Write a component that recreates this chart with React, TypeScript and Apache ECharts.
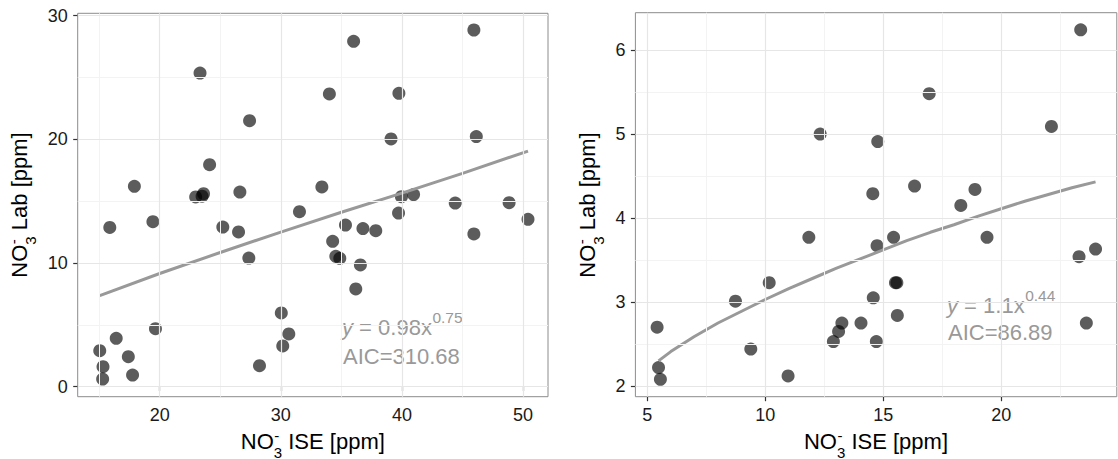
import React, { useEffect, useRef } from "react";
import * as echarts from "echarts";

// ---------- Left panel data ----------
const leftX = [15.05, 15.32, 15.29, 15.88, 16.41, 17.41, 17.76, 17.91, 19.44, 19.65, 23.33, 22.97, 23.5, 23.62, 24.12, 25.21, 26.51, 26.62, 27.42, 27.36, 28.24, 30.04, 30.66, 30.16, 31.54, 33.39, 34.01, 34.28, 34.54, 34.87, 35.34, 36.01, 36.19, 36.57, 36.78, 37.84, 39.1, 39.75, 39.72, 39.96, 40.96, 44.4, 45.94, 46.14, 45.94, 48.85, 50.41];
const leftY = [2.91, 1.62, 0.62, 12.88, 3.91, 2.43, 0.94, 16.2, 13.34, 4.69, 25.36, 15.34, 15.4, 15.6, 17.95, 12.91, 12.51, 15.74, 21.51, 10.4, 1.7, 5.96, 4.26, 3.29, 14.15, 16.15, 23.67, 11.75, 10.54, 10.38, 13.07, 27.92, 7.9, 9.84, 12.78, 12.61, 20.03, 23.72, 14.04, 15.36, 15.53, 14.85, 28.84, 20.22, 12.35, 14.88, 13.53];
const leftFitX = [15.05, 20, 25, 30, 35, 40, 45, 50.41];
const leftFitY = [7.36, 9.15, 10.85, 12.5, 14.1, 15.65, 17.25, 19.05];
const leftXTicks = [20, 30, 40, 50];
const leftXMinor = [15, 25, 35, 45];
const leftYTicks = [0, 10, 20, 30];
const leftYMinor = [5, 15, 25];
const leftXRange = [13.23, 52.06];
const leftYRange = [-0.81, 30.19];

// ---------- Right panel data ----------
const rightX = [5.42, 5.48, 5.56, 8.74, 9.39, 10.17, 10.97, 11.85, 12.33, 12.89, 13.11, 13.25, 14.06, 14.56, 14.58, 14.77, 14.74, 14.71, 15.44, 15.52, 15.58, 15.6, 16.33, 16.95, 18.29, 18.89, 19.4, 22.13, 23.37, 23.3, 23.61, 24.0];
const rightY = [2.7, 2.22, 2.08, 3.01, 2.44, 3.23, 2.12, 3.77, 5.0, 2.53, 2.65, 2.75, 2.75, 4.29, 3.05, 4.91, 3.67, 2.53, 3.77, 3.23, 3.23, 2.84, 4.38, 5.48, 4.15, 4.34, 3.77, 5.09, 6.24, 3.54, 2.75, 3.63];
const rightFitX = [5.48, 6, 6.5, 7, 8, 9, 10, 11, 12, 13, 14, 15, 16, 17, 18, 19, 20, 21, 22, 23, 24.0];
const rightFitY = [2.3, 2.41, 2.5, 2.59, 2.75, 2.89, 3.03, 3.16, 3.28, 3.4, 3.51, 3.62, 3.73, 3.83, 3.92, 4.02, 4.11, 4.2, 4.28, 4.36, 4.43];
const rightXTicks = [5, 10, 15, 20];
const rightXMinor = [7.5, 12.5, 17.5, 22.5];
const rightYTicks = [2, 3, 4, 5, 6];
const rightYMinor = [2.5, 3.5, 4.5, 5.5];
const rightXRange = [4.5, 24.9];
const rightYRange = [1.873, 6.444];

// ---------- Texts ----------
const leftEqCoef = " = 0.98x";
const leftEqExp = "0.75";
const leftAIC = "AIC=310.68";
const rightEqCoef = " = 1.1x";
const rightEqExp = "0.44";
const rightAIC = "AIC=86.89";
const xTitleRest = " ISE [ppm]";
const yTitleRest = " Lab [ppm]";

const FONT = '"Liberation Sans", Arial, Helvetica, sans-serif';
const TITLE_SIZE = 22;
const SUB_SIZE = 15;
const ANN_SIZE = 22;
const SUP_SIZE = 15.5;
const GREY = "#999999";

function textWidth(text: string, size: number, style = "normal") {
  const ctx = document.createElement("canvas").getContext("2d")!;
  ctx.font = `${style} ${size}px ${FONT}`;
  return ctx.measureText(text).width;
}

function txt(x: number, y: number, text: string, size: number, fill: string, extra: any = {}) {
  return {
    type: "text",
    x,
    y,
    silent: true,
    style: {
      text,
      fontSize: size,
      fontFamily: FONT,
      fill,
      align: "left",
      verticalAlign: "middle",
      textAlign: "left",
      textVerticalAlign: "middle",
      ...extra,
    },
  };
}

function axisTitle(cx: number, cy: number, rotated: boolean, rest: string) {
  const w1 = textWidth("NO", TITLE_SIZE);
  const w2 = Math.max(textWidth("3", SUB_SIZE), textWidth("-", SUB_SIZE));
  const w3 = textWidth(rest, TITLE_SIZE);
  const x0 = -(w1 + w2 + w3) / 2;
  return {
    type: "group",
    x: cx,
    y: cy,
    rotation: rotated ? Math.PI / 2 : 0,
    children: [
      txt(x0, 0, "NO", TITLE_SIZE, "#000"),
      txt(x0 + w1, 11, "3", SUB_SIZE, "#000"),
      txt(x0 + w1 + 0.5, -6, "-", SUB_SIZE, "#000"),
      txt(x0 + w1 + w2, 0, rest, TITLE_SIZE, "#000"),
    ],
  };
}

function annotation(x: number, y1: number, y2: number, coef: string, exp: string, aic: string) {
  const wy = textWidth("y", ANN_SIZE, "italic");
  const wc = textWidth(coef, ANN_SIZE);
  return {
    type: "group",
    x: 0,
    y: 0,
    children: [
      txt(x, y1, "y", ANN_SIZE, GREY, { fontStyle: "italic" }),
      txt(x + wy, y1, coef, ANN_SIZE, GREY),
      txt(x + wy + wc + 0.5, y1 - 10, exp, SUP_SIZE, GREY),
      txt(x + 1, y2, aic, ANN_SIZE, GREY),
    ],
  };
}

function gridLines(idx: number, xMajor: number[], xMinor: number[], yMajor: number[], yMinor: number[]) {
  const minor = { color: "#f3f3f3", width: 1, type: "solid" };
  const major = { color: "#e6e6e6", width: 1.2, type: "solid" };
  const data: any[] = [];
  xMinor.forEach((v) => data.push({ xAxis: v, lineStyle: minor }));
  yMinor.forEach((v) => data.push({ yAxis: v, lineStyle: minor }));
  xMajor.forEach((v) => data.push({ xAxis: v, lineStyle: major }));
  yMajor.forEach((v) => data.push({ yAxis: v, lineStyle: major }));
  return {
    type: "line",
    xAxisIndex: idx,
    yAxisIndex: idx,
    data: [],
    silent: true,
    z: 0,
    markLine: {
      silent: true,
      animation: false,
      symbol: ["none", "none"],
      label: { show: false },
      lineStyle: { type: "solid" },
      emphasis: { disabled: true },
      data,
    },
  };
}

function valueAxis(idx: number, range: number[], ticks: number[], isY: boolean) {
  return {
    type: "value",
    gridIndex: idx,
    min: range[0],
    max: range[1],
    axisLine: { show: false },
    splitLine: { show: false },
    minorSplitLine: { show: false },
    axisTick: {
      show: true,
      length: 4.5,
      customValues: ticks,
      lineStyle: { color: "#333333", width: 1.2 },
    },
    axisLabel: {
      customValues: ticks,
      fontSize: 18,
      fontFamily: FONT,
      color: "#1a1a1a",
      margin: isY ? 10 : 9,
      showMinLabel: true,
      showMaxLabel: true,
    },
  };
}

export default function App() {
  const ref = useRef<HTMLDivElement>(null);

  useEffect(() => {
    if (!ref.current) return;
    const chart = echarts.init(ref.current, undefined, { renderer: "svg" });
    const pts = (xs: number[], ys: number[]) => xs.map((x, i) => [x, ys[i]]);

    chart.setOption({
      animation: false,
      backgroundColor: "#ffffff",
      grid: [
        { left: 77.7, top: 13.3, width: 470.3, height: 383.4, show: true, borderColor: "#8c8c8c", borderWidth: 1, backgroundColor: "#ffffff" },
        { left: 635.4, top: 12.7, width: 481.4, height: 384, show: true, borderColor: "#8c8c8c", borderWidth: 1, backgroundColor: "#ffffff" },
      ],
      xAxis: [
        valueAxis(0, leftXRange, leftXTicks, false),
        valueAxis(1, rightXRange, rightXTicks, false),
      ],
      yAxis: [
        valueAxis(0, leftYRange, leftYTicks, true),
        valueAxis(1, rightYRange, rightYTicks, true),
      ],
      series: [
        gridLines(0, leftXTicks, leftXMinor, leftYTicks, leftYMinor),
        gridLines(1, rightXTicks, rightXMinor, rightYTicks, rightYMinor),
        {
          type: "scatter",
          xAxisIndex: 0,
          yAxisIndex: 0,
          data: pts(leftX, leftY),
          symbolSize: 13,
          itemStyle: { color: "rgba(0,0,0,0.8)" },
          z: 3,
        },
        {
          type: "scatter",
          xAxisIndex: 1,
          yAxisIndex: 1,
          data: pts(rightX, rightY),
          symbolSize: 13,
          itemStyle: { color: "rgba(0,0,0,0.8)" },
          z: 3,
        },
        {
          type: "line",
          xAxisIndex: 0,
          yAxisIndex: 0,
          data: pts(leftFitX, leftFitY),
          showSymbol: false,
          smooth: false,
          lineStyle: { color: GREY, width: 3 },
          z: 4,
        },
        {
          type: "line",
          xAxisIndex: 1,
          yAxisIndex: 1,
          data: pts(rightFitX, rightFitY),
          showSymbol: false,
          smooth: false,
          lineStyle: { color: GREY, width: 3, join: "round" },
          z: 4,
        },
      ],
      graphic: [
        axisTitle(312.8, 441, false, xTitleRest),
        axisTitle(876, 441, false, xTitleRest),
        axisTitle(19, 205, true, yTitleRest),
        axisTitle(587, 205, true, yTitleRest),
        annotation(342, 327, 356, leftEqCoef, leftEqExp, leftAIC),
        annotation(947, 305, 332, rightEqCoef, rightEqExp, rightAIC),
      ],
    });

    return () => chart.dispose();
  }, []);

  return (
    <div
      ref={ref}
      style={{ position: "fixed", left: 0, top: 0, width: 1118, height: 459, background: "#fff" }}
    />
  );
}
